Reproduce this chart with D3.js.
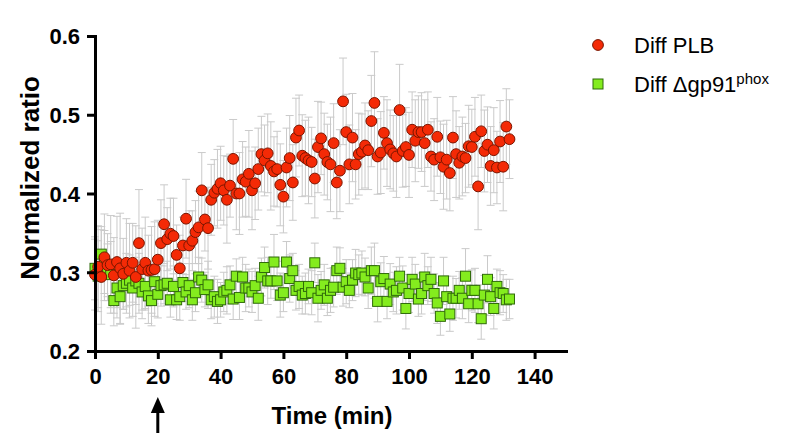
<!DOCTYPE html>
<html><head><meta charset="utf-8">
<script src="https://cdn.jsdelivr.net/npm/d3@7"></script>
<style>body{margin:0;background:#fff}svg{display:block}</style>
</head><body>
<svg id="chart" width="798" height="442"></svg>
<script>
const times = [0,1,2,3,4,5,6,7,8,9,10,11,12,13,14,15,16,17,18,19,20,21,22,23,24,25,26,27,28,29,30,31,32,33,34,35,36,37,38,39,40,41,42,43,44,45,46,47,48,49,50,51,52,53,54,55,56,57,58,59,60,61,62,63,64,65,66,67,68,69,70,71,72,73,74,75,76,77,78,79,80,81,82,83,84,85,86,87,88,89,90,91,92,93,94,95,96,97,98,99,100,101,102,103,104,105,106,107,108,109,110,111,112,113,114,115,116,117,118,119,120,121,122,123,124,125,126,127,128,129,130,131,132];
const plbMean = [0.297,0.307,0.294,0.319,0.309,0.310,0.296,0.313,0.305,0.298,0.312,0.302,0.312,0.294,0.337,0.304,0.312,0.302,0.303,0.304,0.316,0.337,0.361,0.342,0.349,0.346,0.322,0.305,0.334,0.368,0.334,0.340,0.351,0.357,0.404,0.367,0.356,0.392,0.401,0.406,0.413,0.404,0.392,0.410,0.444,0.400,0.400,0.418,0.415,0.425,0.404,0.413,0.431,0.450,0.442,0.451,0.435,0.428,0.431,0.411,0.396,0.433,0.445,0.414,0.471,0.480,0.448,0.445,0.442,0.440,0.419,0.459,0.470,0.450,0.440,0.437,0.464,0.414,0.429,0.517,0.478,0.437,0.471,0.437,0.450,0.453,0.461,0.455,0.492,0.515,0.447,0.452,0.477,0.464,0.456,0.451,0.447,0.506,0.454,0.459,0.449,0.481,0.467,0.478,0.478,0.464,0.481,0.447,0.443,0.472,0.446,0.434,0.443,0.426,0.471,0.450,0.439,0.447,0.445,0.460,0.459,0.472,0.409,0.479,0.454,0.462,0.435,0.455,0.433,0.466,0.434,0.485,0.469];
const plbErr = [0.045,0.052,0.060,0.055,0.040,0.062,0.048,0.058,0.070,0.045,0.056,
0.060,0.050,0.065,0.068,0.052,0.058,0.045,0.055,0.060,0.050,0.055,
0.050,0.040,0.045,0.048,0.038,0.042,0.036,0.050,0.044,0.038,0.040,
0.046,0.048,0.040,0.052,0.045,0.042,0.050,0.047,0.044,0.055,0.040,
0.050,0.046,0.052,0.048,0.044,0.055,0.050,0.046,0.052,0.048,0.045,
0.050,0.056,0.044,0.048,0.052,0.046,0.050,0.054,0.048,0.050,0.045,
0.052,0.048,0.055,0.044,0.050,0.058,0.046,0.052,0.048,0.060,0.050,
0.046,0.052,0.055,0.048,0.050,0.056,0.044,0.052,0.048,0.054,0.050,
0.058,0.065,0.048,0.052,0.046,0.055,0.050,0.048,0.052,0.058,0.046,
0.050,0.054,0.048,0.052,0.046,0.050,0.055,0.048,0.044,0.052,0.050,
0.046,0.054,0.050,0.048,0.052,0.055,0.046,0.050,0.044,0.052,0.048,
0.050,0.055,0.046,0.052,0.048,0.050,0.054,0.046,0.052,0.056,0.048,0.050];
const gpMean = [0.305,0.295,0.323,0.313,0.300,0.297,0.264,0.280,0.269,0.283,0.286,0.290,0.280,0.289,0.286,0.275,0.282,0.270,0.264,0.288,0.272,0.283,0.284,0.286,0.265,0.282,0.265,0.269,0.287,0.275,0.283,0.265,0.274,0.294,0.290,0.278,0.284,0.265,0.269,0.263,0.265,0.275,0.277,0.284,0.266,0.295,0.268,0.294,0.280,0.280,0.275,0.283,0.267,0.294,0.306,0.289,0.289,0.313,0.289,0.271,0.274,0.313,0.292,0.302,0.277,0.282,0.271,0.273,0.282,0.274,0.312,0.267,0.277,0.284,0.267,0.277,0.281,0.302,0.305,0.281,0.288,0.277,0.290,0.299,0.297,0.299,0.294,0.280,0.302,0.302,0.263,0.288,0.292,0.263,0.285,0.275,0.277,0.295,0.280,0.254,0.273,0.291,0.285,0.266,0.273,0.294,0.283,0.291,0.273,0.261,0.244,0.289,0.269,0.247,0.267,0.267,0.277,0.267,0.295,0.260,0.277,0.277,0.260,0.241,0.271,0.291,0.269,0.254,0.282,0.274,0.273,0.265,0.266];
const gpErr = [0.040,0.045,0.035,0.040,0.036,0.042,0.032,0.038,0.035,0.030,0.038,
0.032,0.036,0.030,0.038,0.034,0.030,0.035,0.032,0.028,0.030,0.026,
0.024,0.028,0.022,0.026,0.025,0.030,0.024,0.022,0.028,0.026,0.024,
0.025,0.028,0.022,0.030,0.024,0.026,0.028,0.022,0.025,0.030,0.024,
0.026,0.022,0.028,0.025,0.030,0.024,0.026,0.022,0.028,0.024,0.026,
0.030,0.022,0.035,0.025,0.028,0.024,0.026,0.030,0.022,0.025,0.028,
0.024,0.026,0.022,0.028,0.025,0.030,0.024,0.026,0.022,0.028,0.025,
0.030,0.026,0.024,0.028,0.022,0.026,0.030,0.025,0.028,0.024,0.026,
0.030,0.035,0.026,0.024,0.028,0.022,0.026,0.025,0.030,0.024,0.028,
0.026,0.024,0.028,0.025,0.022,0.026,0.030,0.024,0.028,0.025,0.026,
0.024,0.030,0.026,0.022,0.028,0.025,0.024,0.026,0.035,0.024,0.026,
0.028,0.024,0.026,0.025,0.030,0.024,0.026,0.022,0.028,0.024,0.026,0.025];
const xTicks = [0,20,40,60,80,100,120,140];
const yTicks = [0.2,0.3,0.4,0.5,0.6];
const seriesNames = ["Diff PLB", "Diff \u0394gp91"];
const superscript = "phox";
const xTitle = "Time (min)";
const yTitle = "Normalized ratio";
const stimTime = 20;

const svg = d3.select("#chart");
const font = "'Liberation Sans', Arial, Helvetica, sans-serif";
const x = d3.scaleLinear().domain([0,150]).range([95,566]);
const y = d3.scaleLinear().domain([0.2,0.6]).range([351,36]);

const plb = times.map((t,i)=>({t, v:plbMean[i], e:plbErr[i]}));
const gp = times.map((t,i)=>({t, v:gpMean[i], e:gpErr[i]}));

function errBars(data){
  const g = svg.append("g").attr("stroke","#cacaca").attr("stroke-width",1).attr("fill","none");
  data.forEach(d=>{
    const cx = x(d.t), y0 = y(d.v - d.e), y1 = y(d.v + d.e);
    g.append("line").attr("x1",cx).attr("x2",cx).attr("y1",y0).attr("y2",y1);
    g.append("line").attr("x1",cx-4).attr("x2",cx+4).attr("y1",y0).attr("y2",y0);
    g.append("line").attr("x1",cx-4).attr("x2",cx+4).attr("y1",y1).attr("y2",y1);
  });
}
errBars(gp);
errBars(plb);

svg.append("g").selectAll("rect").data(gp).join("rect")
  .attr("x",d=>x(d.t)-5).attr("y",d=>y(d.v)-5).attr("width",10).attr("height",10)
  .attr("fill","#84ec1e").attr("stroke","#2f6a0a").attr("stroke-width",1);

svg.append("g").selectAll("circle").data(plb).join("circle")
  .attr("cx",d=>x(d.t)).attr("cy",d=>y(d.v)).attr("r",5.4)
  .attr("fill","#f42a06").attr("stroke","#7a1500").attr("stroke-width",1);

const yAxis = svg.append("g").attr("transform","translate(95,0)")
  .call(d3.axisLeft(y).tickValues(yTicks).tickSize(8).tickSizeOuter(0).tickPadding(7).tickFormat(d3.format(".1f")));
const xAxis = svg.append("g").attr("transform","translate(0,351)")
  .call(d3.axisBottom(x).tickValues(xTicks).tickSize(8).tickSizeOuter(0).tickPadding(9).tickFormat(d3.format("d")));
[yAxis,xAxis].forEach(a=>{
  a.select(".domain").attr("stroke","#000").attr("stroke-width",3).attr("stroke-linecap","square");
  a.selectAll(".tick line").attr("stroke","#000").attr("stroke-width",3);
  a.selectAll("text").attr("fill","#000").style("font-family",font).style("font-size","22px").style("font-weight","bold");
});
yAxis.selectAll("text").attr("dy","0.36em");

svg.append("text").attr("x",332).attr("y",424).attr("text-anchor","middle")
  .style("font-family",font).style("font-size","24px").style("font-weight","bold").text(xTitle);
svg.append("text").attr("transform","translate(39,178) rotate(-90)").attr("text-anchor","middle")
  .style("font-family",font).style("font-size","26px").style("font-weight","bold").text(yTitle);

const ax = x(stimTime);
svg.append("line").attr("x1",ax).attr("x2",ax).attr("y1",410).attr("y2",433).attr("stroke","#000").attr("stroke-width",3);
svg.append("path").attr("d",`M${ax},397 L${ax-7},413 L${ax+7},413 Z`).attr("fill","#000");

const lg = svg.append("g");
lg.append("circle").attr("cx",598).attr("cy",45).attr("r",5.4).attr("fill","#f42a06").attr("stroke","#7a1500");
lg.append("text").attr("x",634).attr("y",53).style("font-family",font).style("font-size","22px").text(seriesNames[0]);
lg.append("rect").attr("x",593).attr("y",79).attr("width",10).attr("height",10).attr("fill","#84ec1e").attr("stroke","#2f6a0a");
const t2 = lg.append("text").attr("x",634).attr("y",92).style("font-family",font).style("font-size","22px");
t2.append("tspan").text(seriesNames[1]);
t2.append("tspan").attr("dy",-8).style("font-size","15px").text(superscript);
</script>
</body></html>
